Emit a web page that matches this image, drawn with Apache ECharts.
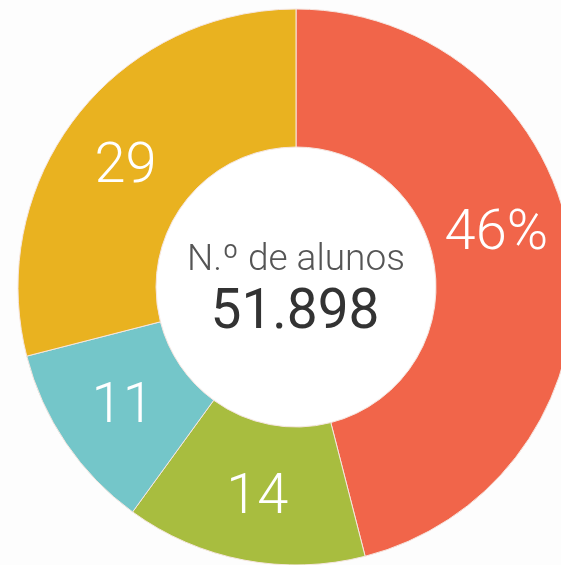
<!DOCTYPE html>
<html>
<head>
<meta charset="utf-8">
<script src="https://cdn.jsdelivr.net/npm/echarts@6/dist/echarts.min.js"></script>
<style>
  html, body { margin: 0; padding: 0; background: #fdfdfd; }
  #chart { width: 561px; height: 565px; }
</style>
</head>
<body>
<div id="chart"></div>
<script>
// Shares of students per group (percent), clockwise from the top
const categories = ['Grupo 1', 'Grupo 2', 'Grupo 3', 'Grupo 4'];
const shares = [46, 14, 11, 29];
const colors = ['#f1654a', '#a8bd3f', '#74c6c9', '#e9b220'];
const centerTitle = 'N.º de alunos';
const totalAlunos = '51.898';

const chart = echarts.init(document.getElementById('chart'), null, { renderer: 'canvas' });

const fontFamily = 'Roboto, "Helvetica Neue", "Liberation Sans", sans-serif';

// small nudges of the value labels inside their slices
const labelNudge = [
  { dx: -10, dy: -25 },
  { dx: 1, dy: 4 },
  { dx: 2, dy: 2 },
  { dx: -3, dy: 11 }
];

chart.setOption({
  backgroundColor: '#fdfdfd',
  animation: false,
  series: [{
    type: 'pie',
    center: [296, 287],
    radius: [140, 278],
    startAngle: 90,
    clockwise: true,
    avoidLabelOverlap: false,
    itemStyle: { borderColor: '#f6e6e0', borderWidth: 1 },
    label: {
      show: true,
      position: 'inside',
      color: '#ffffff',
      fontFamily: fontFamily,
      fontWeight: 300,
      fontSize: 56,
      formatter: p => p.dataIndex === 0 ? p.value + '%' : String(p.value)
    },
    labelLine: { show: false },
    labelLayout: p => labelNudge[p.dataIndex],
    emphasis: { disabled: true },
    data: categories.map((name, i) => ({
      name: name,
      value: shares[i],
      itemStyle: { color: colors[i] }
    }))
  }],
  graphic: [
    {
      type: 'circle',
      shape: { cx: 296, cy: 287, r: 139 },
      style: { fill: '#ffffff' },
      silent: true,
      z: -1
    },
    {
      type: 'text',
      style: {
        text: centerTitle,
        x: 296, y: 261,
        align: 'center', verticalAlign: 'middle',
        fontFamily: fontFamily, fontWeight: 300, fontSize: 37,
        fill: '#555555'
      }
    },
    {
      type: 'text',
      style: {
        text: totalAlunos,
        x: 295, y: 314,
        align: 'center', verticalAlign: 'middle',
        fontFamily: fontFamily, fontWeight: 400, fontSize: 55,
        fill: '#333333'
      }
    }
  ]
});
</script>
</body>
</html>
